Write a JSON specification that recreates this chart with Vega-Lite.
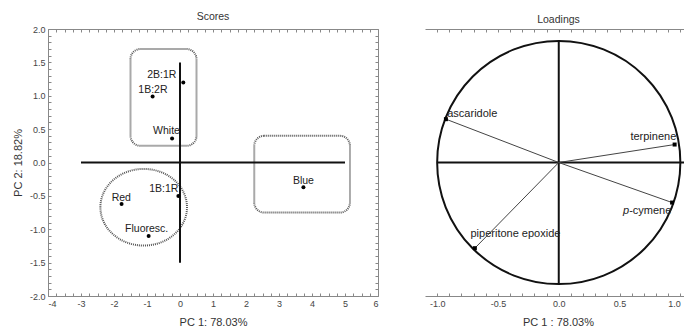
{
  "$schema": "https://vega.github.io/schema/vega-lite/v6.json",
  "autosize": {"type": "pad"},
  "padding": {"left": 12, "top": 11, "right": 0, "bottom": 0},
  "background": "white",
  "bounds": "flush",
  "spacing": 47,
  "datasets": {
    "scores": [
      {"label": "2B:1R", "x": 0.1, "y": 1.2, "lx": -0.55, "ly": 1.31},
      {"label": "1B:2R", "x": -0.83, "y": 0.99, "lx": -0.82, "ly": 1.09},
      {"label": "White", "x": -0.24, "y": 0.36, "lx": -0.41, "ly": 0.47},
      {"label": "1B:1R", "x": -0.05, "y": -0.5, "lx": -0.49, "ly": -0.395},
      {"label": "Red", "x": -1.77, "y": -0.62, "lx": -1.78, "ly": -0.525},
      {"label": "Fluoresc.", "x": -0.95, "y": -1.1, "lx": -1.01, "ly": -0.995},
      {"label": "Blue", "x": 3.74, "y": -0.37, "lx": 3.74, "ly": -0.275}
    ],
    "groups": [
      {"x": -1.5, "x2": 0.5, "y": 0.25, "y2": 1.7},
      {"x": 2.25, "x2": 5.15, "y": -0.75, "y2": 0.4}
    ],
    "ellipse": [{"x": -1.1, "y": -0.67}],
    "scoreCross": [
      {"x": -3, "x2": 5, "y": 0, "y2": 0},
      {"x": 0, "x2": 0, "y": -1.5, "y2": 1.5}
    ],
    "loadings": [
      {"name": "ascaridole", "x": -0.928, "y": 0.357},
      {"name": "terpinene", "x": 0.953, "y": 0.148},
      {"name": "p-cymene", "x": 0.932, "y": -0.33},
      {"name": "piperitone epoxide", "x": -0.69, "y": -0.706}
    ],
    "loadingLabels": [
      {"text": "ascaridole", "lx": -0.917, "ly": 0.4},
      {"text": "terpinene", "lx": 0.589, "ly": 0.214},
      {"text": "p", "lx": 0.529, "ly": -0.396},
      {"text": "-cymene", "lx": 0.579, "ly": -0.396},
      {"text": "piperitone epoxide", "lx": -0.726, "ly": -0.591}
    ],
    "unitCircle": [{"x": 0, "y": 0}],
    "loadCross": [
      {"x": -1, "x2": 1.03, "y": 0, "y2": 0},
      {"x": 0, "x2": 0, "y": -1, "y2": 1}
    ]
  },
  "hconcat": [
    {
      "width": 330,
      "height": 267,
      "title": {"text": "Scores"},
      "resolve": {"axis": {"x": "independent", "y": "independent"}},
      "layer": [
        {
          "data": {"name": "groups"},
          "mark": {"type": "rect", "filled": false, "stroke": "#555", "strokeWidth": 2, "strokeDash": [1, 1], "cornerRadius": 10},
          "encoding": {
            "x": {"field": "x", "type": "quantitative", "scale": {"domain": [-4, 6], "nice": false, "zero": false},
              "axis": {"orient": "top", "labels": false, "title": null,
                "values": [-4,-3.75,-3.5,-3.25,-3,-2.75,-2.5,-2.25,-2,-1.75,-1.5,-1.25,-1,-0.75,-0.5,-0.25,0,0.25,0.5,0.75,1,1.25,1.5,1.75,2,2.25,2.5,2.75,3,3.25,3.5,3.75,4,4.25,4.5,4.75,5,5.25,5.5,5.75,6]}},
            "x2": {"field": "x2"},
            "y": {"field": "y", "type": "quantitative", "scale": {"domain": [-2, 2], "nice": false, "zero": false},
              "axis": {"orient": "right", "labels": false, "title": null,
                "values": [-2,-1.9,-1.8,-1.7,-1.6,-1.5,-1.4,-1.3,-1.2,-1.1,-1,-0.9,-0.8,-0.7,-0.6,-0.5,-0.4,-0.3,-0.2,-0.1,0,0.1,0.2,0.3,0.4,0.5,0.6,0.7,0.8,0.9,1,1.1,1.2,1.3,1.4,1.5,1.6,1.7,1.8,1.9,2]}},
            "y2": {"field": "y2"}
          }
        },
        {
          "data": {"name": "ellipse"},
          "mark": {"type": "point", "filled": false, "stroke": "#555", "strokeWidth": 2, "strokeDash": [1, 1], "opacity": 1, "size": 7500,
            "shape": "M -1 0 C -1 -0.4888 -0.5523 -0.885 0 -0.885 C 0.5523 -0.885 1 -0.4888 1 0 C 1 0.4888 0.5523 0.885 0 0.885 C -0.5523 0.885 -1 0.4888 -1 0 Z"},
          "encoding": {
            "x": {"field": "x", "type": "quantitative", "axis": null},
            "y": {"field": "y", "type": "quantitative", "axis": null}
          }
        },
        {
          "data": {"name": "scoreCross"},
          "mark": {"type": "rule", "color": "#111", "strokeWidth": 2},
          "encoding": {
            "x": {"field": "x", "type": "quantitative", "axis": null},
            "x2": {"field": "x2"},
            "y": {"field": "y", "type": "quantitative", "axis": null},
            "y2": {"field": "y2"}
          }
        },
        {
          "data": {"name": "scores"},
          "mark": {"type": "point", "filled": true, "color": "#000", "opacity": 1, "size": 16},
          "encoding": {
            "x": {"field": "x", "type": "quantitative",
              "axis": {"orient": "bottom", "title": "PC 1: 78.03%", "format": ".0f",
                "labelExpr": "abs(datum.value - round(datum.value)) < 1e-6 ? replace(datum.label, '\u2212', '-') : ''",
                "values": [-4,-3.75,-3.5,-3.25,-3,-2.75,-2.5,-2.25,-2,-1.75,-1.5,-1.25,-1,-0.75,-0.5,-0.25,0,0.25,0.5,0.75,1,1.25,1.5,1.75,2,2.25,2.5,2.75,3,3.25,3.5,3.75,4,4.25,4.5,4.75,5,5.25,5.5,5.75,6]}},
            "y": {"field": "y", "type": "quantitative",
              "axis": {"orient": "left", "title": "PC 2: 18.82%", "format": ".1f", "titleX": -25,
                "labelExpr": "abs(datum.value * 2 - round(datum.value * 2)) < 1e-6 ? replace(datum.label, '\u2212', '-') : ''",
                "values": [-2,-1.9,-1.8,-1.7,-1.6,-1.5,-1.4,-1.3,-1.2,-1.1,-1,-0.9,-0.8,-0.7,-0.6,-0.5,-0.4,-0.3,-0.2,-0.1,0,0.1,0.2,0.3,0.4,0.5,0.6,0.7,0.8,0.9,1,1.1,1.2,1.3,1.4,1.5,1.6,1.7,1.8,1.9,2]}}
          }
        },
        {
          "data": {"name": "scores"},
          "mark": {"type": "text", "fontSize": 10.5, "font": "Liberation Sans", "color": "#222", "align": "center", "baseline": "middle"},
          "encoding": {
            "x": {"field": "lx", "type": "quantitative", "axis": null},
            "y": {"field": "ly", "type": "quantitative", "axis": null},
            "text": {"field": "label"}
          }
        }
      ]
    },
    {
      "width": 259,
      "height": 267,
      "title": {"text": "Loadings", "dx": 4},
      "resolve": {"axis": {"x": "independent"}},
      "layer": [
        {
          "data": {"name": "unitCircle"},
          "mark": {"type": "point", "shape": "circle", "filled": false, "stroke": "#111", "strokeWidth": 2, "opacity": 1, "size": 59146},
          "encoding": {
            "x": {"field": "x", "type": "quantitative", "scale": {"domain": [-1.1, 1.03], "nice": false, "zero": false},
              "axis": {"orient": "top", "labels": false, "title": null,
                "values": [-1,-0.9,-0.8,-0.7,-0.6,-0.5,-0.4,-0.3,-0.2,-0.1,0,0.1,0.2,0.3,0.4,0.5,0.6,0.7,0.8,0.9,1]}},
            "y": {"field": "y", "type": "quantitative", "scale": {"domain": [-1.1, 1.1], "nice": false, "zero": false}, "axis": null}
          }
        },
        {
          "data": {"name": "loadCross"},
          "mark": {"type": "rule", "color": "#111", "strokeWidth": 2},
          "encoding": {
            "x": {"field": "x", "type": "quantitative", "axis": null},
            "x2": {"field": "x2"},
            "y": {"field": "y", "type": "quantitative", "axis": null},
            "y2": {"field": "y2"}
          }
        },
        {
          "data": {"name": "loadings"},
          "mark": {"type": "rule", "color": "#444", "strokeWidth": 1},
          "encoding": {
            "x": {"field": "x", "type": "quantitative", "axis": null},
            "y": {"field": "y", "type": "quantitative", "axis": null},
            "x2": {"datum": 0},
            "y2": {"datum": 0}
          }
        },
        {
          "data": {"name": "loadings"},
          "mark": {"type": "point", "filled": true, "color": "#000", "opacity": 1, "size": 16, "shape": "square"},
          "encoding": {
            "x": {"field": "x", "type": "quantitative",
              "axis": {"orient": "bottom", "title": "PC 1 : 78.03%", "format": ".1f", "titleX": 133, "labelFontSize": 9,
                "labelExpr": "abs(datum.value * 2 - round(datum.value * 2)) < 1e-6 ? replace(datum.label, '\u2212', '-') : ''",
                "values": [-1,-0.9,-0.8,-0.7,-0.6,-0.5,-0.4,-0.3,-0.2,-0.1,0,0.1,0.2,0.3,0.4,0.5,0.6,0.7,0.8,0.9,1]}},
            "y": {"field": "y", "type": "quantitative",
              "axis": {"orient": "left", "title": "PC 2 : 18.82%", "format": ".1f", "titleX": -25, "labelFontSize": 9,
                "labelExpr": "abs(datum.value * 2 - round(datum.value * 2)) < 1e-6 ? replace(datum.label, '\u2212', '-') : ''",
                "values": [-1,-0.9,-0.8,-0.7,-0.6,-0.5,-0.4,-0.3,-0.2,-0.1,0,0.1,0.2,0.3,0.4,0.5,0.6,0.7,0.8,0.9,1]}}
          }
        },
        {
          "data": {"name": "loadingLabels"},
          "transform": [{"filter": "datum.text !== 'p'"}],
          "mark": {"type": "text", "fontSize": 11, "font": "Liberation Sans", "color": "#222", "align": "left", "baseline": "middle"},
          "encoding": {
            "x": {"field": "lx", "type": "quantitative", "axis": null},
            "y": {"field": "ly", "type": "quantitative", "axis": null},
            "text": {"field": "text"}
          }
        },
        {
          "data": {"name": "loadingLabels"},
          "transform": [{"filter": "datum.text === 'p'"}],
          "mark": {"type": "text", "fontSize": 11, "font": "Liberation Sans", "fontStyle": "italic", "color": "#222", "align": "left", "baseline": "middle"},
          "encoding": {
            "x": {"field": "lx", "type": "quantitative", "axis": null},
            "y": {"field": "ly", "type": "quantitative", "axis": null},
            "text": {"field": "text"}
          }
        }
      ]
    }
  ],
  "config": {
    "view": {"stroke": null},
    "font": "Liberation Sans",
    "title": {"fontSize": 10.5, "fontWeight": "normal", "color": "#333", "font": "Liberation Sans", "offset": 3},
    "axis": {
      "grid": false,
      "tickSize": -3,
      "tickColor": "#888",
      "domainColor": "#888",
      "domainWidth": 1,
      "labelColor": "#444",
      "labelFontSize": 9,
      "labelFont": "Liberation Sans",
      "labelPadding": 6,
      "labelOverlap": false,
      "titleFont": "Liberation Sans",
      "titleFontSize": 11,
      "titleFontWeight": "normal",
      "titleColor": "#333"
    },
    "axisBottom": {"titleY": 20},
    "axisX": {"labelFlush": 5}
  }
}
